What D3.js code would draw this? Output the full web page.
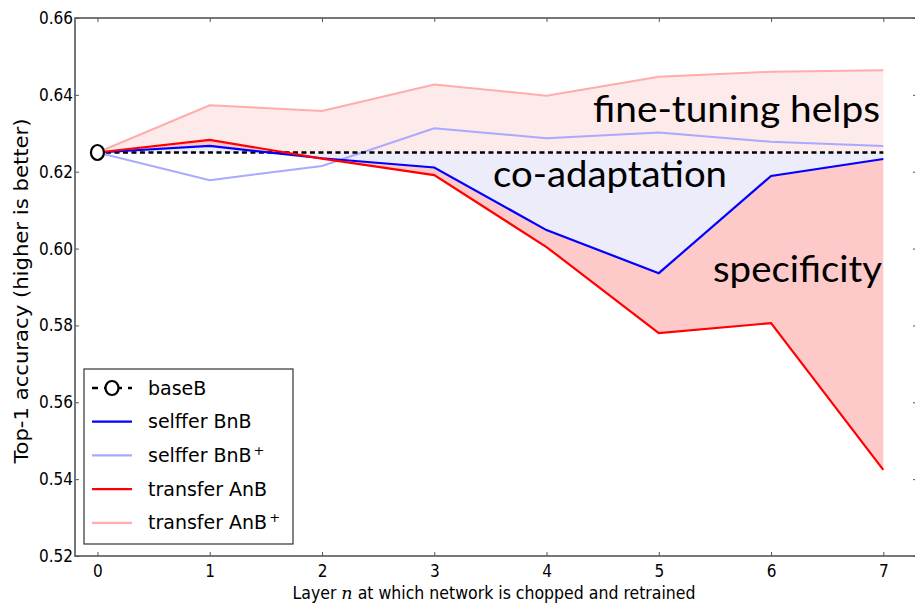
<!DOCTYPE html>
<html lang="en">
<head>
<meta charset="UTF-8">
<title>Transfer accuracy by layer</title>
<script src="https://d3js.org/d3.v7.min.js"></script>
<style>
  body { margin: 0; background: #fff; }
  svg text { font-family: "DejaVu Sans Condensed", "DejaVu Sans", sans-serif; fill: #000; }
  svg text.note { font-family: Lato, "Open Sans", sans-serif; }
  svg text.leg { font-family: "DejaVu Sans", sans-serif; }
</style>
</head>
<body>
<div id="chart"></div>
<script>
// data
const layers = [0, 1, 2, 3, 4, 5, 6, 7];
const baseB = [0.625];
const selfferBnB = [0.625, 0.6267, 0.6235, 0.6211, 0.6048, 0.5936, 0.6189, 0.6233];
const selfferBnBplus = [0.625, 0.6178, 0.6215, 0.6313, 0.6287, 0.6302, 0.6278, 0.6267];
const transferAnB = [0.625, 0.6283, 0.6234, 0.6191, 0.6004, 0.5780, 0.5806, 0.5424];
const transferAnBplus = [0.625, 0.6373, 0.6358, 0.6427, 0.6398, 0.6447, 0.6460, 0.6464];
const yTicks = [0.52, 0.54, 0.56, 0.58, 0.60, 0.62, 0.64, 0.66];

const w = 915, h = 606;
const pLeft = 75, pRight = 917, pTop = 18, pBottom = 556;

const svg = d3.select("#chart").append("svg")
    .attr("width", w).attr("height", h);

const x = d3.scaleLinear().domain([-0.2, 7.3]).range([pLeft, pRight]);
const y = d3.scaleLinear().domain([0.52, 0.66]).range([pBottom, pTop]);

const rows = layers.map((l, i) => ({
    l: l,
    bnb: selfferBnB[i], bnbp: selfferBnBplus[i],
    anb: transferAnB[i], anbp: transferAnBplus[i]
}));

// shaded regions
const area = (lo, hi) => d3.area().x(d => x(d.l)).y0(lo).y1(hi);
svg.append("path").datum(rows)
    .attr("fill", "#fdeaea")
    .attr("d", area(() => y(baseB[0]), d => y(d.anbp)));
svg.append("path").datum(rows)
    .attr("fill", "#ececfb")
    .attr("d", area(() => y(baseB[0]), d => y(d.bnb)));
svg.append("path").datum(rows)
    .attr("fill", "#fdc9c9")
    .attr("d", area(d => y(d.bnb), d => y(d.anb)));

// annotations
svg.append("text").attr("class", "note")
    .attr("x", 880).attr("y", 122).attr("text-anchor", "end")
    .attr("font-size", 37).attr("textLength", 287).attr("lengthAdjust", "spacingAndGlyphs")
    .text("fine-tuning helps");
svg.append("text").attr("class", "note")
    .attr("x", 727).attr("y", 187).attr("text-anchor", "end")
    .attr("font-size", 37).attr("textLength", 234).attr("lengthAdjust", "spacingAndGlyphs")
    .text("co-adaptation");
svg.append("text").attr("class", "note")
    .attr("x", 882).attr("y", 282).attr("text-anchor", "end")
    .attr("font-size", 37).attr("textLength", 169).attr("lengthAdjust", "spacingAndGlyphs")
    .text("specificity");

// lines
const line = key => d3.line().x(d => x(d.l)).y(d => y(d[key]));
const series = [
    { key: "bnbp", color: "#a9a9ff" },
    { key: "anbp", color: "#ffacac" },
];
series.forEach(s => {
    svg.append("path").datum(rows)
        .attr("fill", "none").attr("stroke", s.color).attr("stroke-width", 2)
        .attr("d", line(s.key));
});

svg.append("line")
    .attr("x1", x(layers[0])).attr("x2", x(layers[layers.length - 1]))
    .attr("y1", y(baseB[0])).attr("y2", y(baseB[0]))
    .attr("stroke", "#000").attr("stroke-width", 2.5).attr("stroke-dasharray", "5,3.5");

[{ key: "bnb", color: "#0000ff" }, { key: "anb", color: "#ff0000" }].forEach(s => {
    svg.append("path").datum(rows)
        .attr("fill", "none").attr("stroke", s.color).attr("stroke-width", 2.2)
        .attr("d", line(s.key));
});

svg.append("ellipse")
    .attr("cx", x(layers[0])).attr("cy", y(baseB[0]))
    .attr("rx", 6.5).attr("ry", 7.5)
    .attr("fill", "#fff").attr("stroke", "#000").attr("stroke-width", 2.2);

// axes, ticks pointing inward
const tickCol = "#555";
const gx = svg.append("g").attr("transform", "translate(0," + pBottom + ")")
    .call(d3.axisBottom(x).tickValues(layers).tickSizeInner(-4).tickSizeOuter(0).tickPadding(9));
const gxt = svg.append("g").attr("transform", "translate(0," + pTop + ")")
    .call(d3.axisTop(x).tickValues(layers).tickSizeInner(-4).tickSizeOuter(0).tickFormat(""));
const gy = svg.append("g").attr("transform", "translate(" + pLeft + ",0)")
    .call(d3.axisLeft(y).tickValues(yTicks).tickSizeInner(-4).tickSizeOuter(0).tickPadding(2)
        .tickFormat(d3.format(".2f")));
const gyr = svg.append("g").attr("transform", "translate(" + pRight + ",0)")
    .call(d3.axisRight(y).tickValues(yTicks).tickSizeInner(-4).tickSizeOuter(0).tickFormat(""));
[gx, gxt, gy, gyr].forEach(g => {
    g.select(".domain").remove();
    g.selectAll("line").attr("stroke", tickCol);
    g.selectAll("text").attr("font-size", 17).attr("fill", "#000");
});

svg.append("rect")
    .attr("x", pLeft).attr("y", pTop)
    .attr("width", pRight - pLeft).attr("height", pBottom - pTop)
    .attr("fill", "none").attr("stroke", tickCol).attr("stroke-width", 1.6);

// axis titles
const xl = svg.append("text")
    .attr("x", (pLeft + pRight) / 2 - 2).attr("y", 599).attr("text-anchor", "middle")
    .attr("font-size", 17.5);
xl.append("tspan").text("Layer ");
xl.append("tspan").style("font-family", "DejaVu Serif, serif").style("font-style", "italic").text("n");
xl.append("tspan").text(" at which network is chopped and retrained");

svg.append("text")
    .attr("transform", "translate(28," + ((pTop + pBottom) / 2 + 4) + ") rotate(-90)")
    .attr("text-anchor", "middle").attr("font-size", 19)
    .attr("textLength", 345).attr("lengthAdjust", "spacingAndGlyphs")
    .text("Top-1 accuracy (higher is better)");

// legend
const legendItems = [
    { name: "baseB", sup: "", color: "#000", base: true },
    { name: "selffer BnB", sup: "", color: "#0000ff" },
    { name: "selffer BnB", sup: "+", color: "#a9a9ff" },
    { name: "transfer AnB", sup: "", color: "#ff0000" },
    { name: "transfer AnB", sup: "+", color: "#ffacac" }
];
const lg = svg.append("g").attr("transform", "translate(84,369)");
lg.append("rect").attr("width", 209).attr("height", 175)
    .attr("fill", "#fff").attr("stroke", "#333").attr("stroke-width", 1.2);
legendItems.forEach((it, i) => {
    const cy = 19 + i * 33.7;
    const row = lg.append("g").attr("transform", "translate(0," + cy + ")");
    const ln = row.append("line").attr("x1", 8).attr("x2", 48)
        .attr("stroke", it.color).attr("stroke-width", it.base ? 2.5 : 2.2);
    if (it.base) {
        ln.attr("stroke-dasharray", "6,6");
        row.append("ellipse").attr("cx", 28).attr("rx", 6.5).attr("ry", 7)
            .attr("fill", "#fff").attr("stroke", "#000").attr("stroke-width", 2.2);
    }
    const t = row.append("text").attr("class", "leg").attr("x", 64).attr("dy", "0.35em")
        .attr("font-size", 19)
        .text(it.name);
    if (it.sup) t.append("tspan").attr("dx", 2).attr("baseline-shift", "super")
        .attr("font-size", 13).text(it.sup);
});
</script>
</body>
</html>
